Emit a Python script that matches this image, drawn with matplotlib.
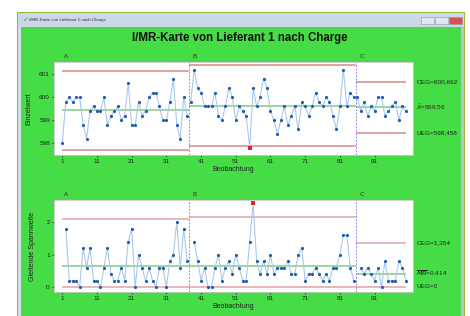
"""I/MR-Karte (Minitab-Stil) im Fenster-Screenshot nachgebaut."""

import numpy as np
import matplotlib

matplotlib.use("Agg")
import matplotlib.pyplot as plt
from matplotlib.patches import Rectangle

plt.rcParams["font.family"] = ["Liberation Sans", "DejaVu Sans"]

# --- Daten (Einzelwerte je Beobachtung) ---
stage_a = [598.0, 599.8, 600.0, 599.8, 600.0, 600.0, 598.8, 598.2, 599.4, 599.6,
           599.4, 599.4, 600.0, 598.8, 599.2, 599.4, 599.6, 599.0, 599.2, 600.6,
           598.8, 598.8, 599.8, 599.2, 599.4, 600.0, 600.2, 600.2, 599.6, 599.0,
           599.0, 599.8, 600.8, 598.8, 598.2, 600.0, 599.2]
stage_b = [599.8, 601.2, 600.4, 600.2, 599.6, 599.6, 599.6, 600.2, 599.2, 599.0,
           599.6, 600.4, 600.0, 599.0, 599.6, 599.4, 599.2, 597.8, 600.4, 599.6,
           600.0, 600.8, 600.4, 599.4, 599.0, 598.4, 599.0, 599.6, 598.8, 599.2,
           599.6, 598.6, 599.8, 599.6, 599.2, 599.6, 600.2, 599.8, 599.6, 600.0,
           599.8, 599.2, 598.6, 599.6, 601.2, 599.6, 600.2, 600.0]
stage_c = [600.0, 599.4, 599.8, 599.2, 599.6, 599.4, 600.0, 600.0, 599.2, 599.4,
           599.6, 599.8, 599.0, 599.6, 599.4]
stage_names = ["A", "B", "C"]

i_ticks = [598, 599, 600, 601]
mr_ticks = [0, 1, 2]
x_ticks = [1, 11, 21, 31, 41, 51, 61, 71, 81, 91]

# Minitab-Konstanten fuer n=2
D2, D3 = 1.128, 0.8525
K_I = 3 / D2
K_MR = 1 + 3 * D3 / D2

GREEN_BG = "#45dc45"
PT_COLOR = "#1f5fae"
LINE_COLOR = "#a9c8ea"
CL_COLOR = "#97d197"
LIM_COLOR = "#e0a4a4"
SEP_COLOR = "#9b86d8"

W, H = 470, 316
fig = plt.figure(figsize=(W / 100, H / 100), dpi=100)
fig.patch.set_facecolor("white")

# Hintergrund: Fensterrahmen in Pixelkoordinaten
bg = fig.add_axes([0, 0, 1, 1], zorder=0)
bg.set_xlim(0, W)
bg.set_ylim(H, 0)
bg.axis("off")
bg.add_patch(Rectangle((17, 12), 447, 310, facecolor="#d5dfeb", edgecolor="#97b83a", lw=0.8))
bg.add_patch(Rectangle((18, 12.5), 445, 14.5, facecolor="#cbd8e8", edgecolor="none"))
bg.add_patch(Rectangle((21, 27), 440, 300, facecolor=GREEN_BG, edgecolor="none"))
bg.add_patch(Rectangle((461, 27), 2.5, 300, facecolor="#b9c4cf", edgecolor="none"))
for x0, col in ((421, "#dfe6ef"), (435, "#dfe6ef"), (449, "#d9534a")):
    bg.add_patch(Rectangle((x0, 17), 13, 6.5, facecolor=col, edgecolor="#8d9bb0", lw=0.4))
bg.text(23, 19.8, "\u2713", color="#3c9a3c", fontsize=5, va="center", family="DejaVu Sans")
bg.text(29, 19.8, "I/MR-Karte von Lieferant 1 nach Charge", fontsize=3.2,
        color="#333333", va="center")
bg.text(240, 38, "I/MR-Karte von Lieferant 1 nach Charge", fontsize=8.3,
        fontweight="bold", ha="center", va="center", color="#111111")

stages = [np.array(stage_a), np.array(stage_b), np.array(stage_c)]
starts = np.cumsum([0] + [len(s) for s in stages])[:-1] + 1
bounds = [starts[1] - 0.5, starts[2] - 0.5]
n_total = sum(len(s) for s in stages)

ax_i = fig.add_axes([54 / W, 1 - 155 / H, 359 / W, 93 / H], zorder=1)
ax_mr = fig.add_axes([54 / W, 1 - 292.3 / H, 359 / W, 92.3 / H], zorder=1)

right_labels = {}
for k, (vals, s0) in enumerate(zip(stages, starts)):
    obs = np.arange(s0, s0 + len(vals))
    mr = np.abs(np.diff(vals))
    mr_obs = obs[1:]
    xbar = vals.mean()
    mrbar = mr.mean()
    ucl, lcl = xbar + K_I * mrbar, xbar - K_I * mrbar
    mr_ucl = K_MR * mrbar
    x_lo = 1 if k == 0 else s0 - 0.5
    x_hi = n_total if k == len(stages) - 1 else s0 + len(vals) - 0.5

    ax_i.hlines([ucl, lcl], x_lo, x_hi, color=LIM_COLOR, lw=1.4, zorder=1)
    ax_i.hlines(xbar, x_lo, x_hi, color=CL_COLOR, lw=1.3, zorder=1)
    ax_i.plot(obs, vals, color=LINE_COLOR, lw=0.8, zorder=2)
    out = (vals > ucl) | (vals < lcl)
    ax_i.plot(obs[~out], vals[~out], "o", color=PT_COLOR, ms=2.3, mew=0, zorder=3)
    ax_i.plot(obs[out], vals[out], "s", color="#e8231f", ms=3, mew=0, zorder=4)

    ax_mr.hlines([mr_ucl, 0], x_lo, x_hi, color=LIM_COLOR, lw=1.1, zorder=1)
    ax_mr.hlines(mrbar, x_lo, x_hi, color=CL_COLOR, lw=1.3, zorder=1)
    ax_mr.plot(mr_obs, mr, color=LINE_COLOR, lw=0.8, zorder=2)
    mr_out = mr > mr_ucl
    ax_mr.plot(mr_obs[~mr_out], mr[~mr_out], "o", color=PT_COLOR, ms=2.3, mew=0, zorder=3)
    ax_mr.plot(mr_obs[mr_out], mr[mr_out], "s", color="#e8231f", ms=3, mew=0, zorder=4)

    for ax in (ax_i, ax_mr):
        ax.text(s0 + 1.2, 1.035, stage_names[k], transform=ax.get_xaxis_transform(),
                fontsize=4.5, color="#333333", ha="center", va="bottom")
    right_labels = dict(ucl=ucl, lcl=lcl, xbar=xbar, mrbar=mrbar, mr_ucl=mr_ucl)

for ax in (ax_i, ax_mr):
    for b in bounds:
        ax.axvline(b, color=SEP_COLOR, lw=0.7, ls=(0, (2, 1.5)), zorder=1)
    ax.set_xlim(-1.39, 102.07)
    ax.set_xticks(x_ticks)
    ax.tick_params(labelsize=4.6, length=1.5, width=0.5, pad=1.5, colors="#222222")
    ax.set_facecolor("white")
    for sp in ax.spines.values():
        sp.set_color("#c8c8c8")
        sp.set_linewidth(0.6)
    ax.set_xlabel("Beobachtung", fontsize=5, labelpad=1.5, color="#222222")
    ax.xaxis.set_label_coords(0.5, -0.115)

ax_i.set_ylim(597.49, 601.535)
ax_i.set_yticks(i_ticks)
ax_i.set_ylabel("Einzelwert", fontsize=5, labelpad=5, color="#222222")
ax_mr.set_ylim(-0.164, 2.685)
ax_mr.set_yticks(mr_ticks)
ax_mr.set_ylabel("Gleitende Spannweite", fontsize=5, labelpad=7, color="#222222")


def de(v, nd):
    return f"{v:.{nd}f}".replace(".", ",")


lab = right_labels
tx = 1.0095
txt_kw = dict(fontsize=4.6, color="#222222", va="center", clip_on=False)
ax_i.text(tx, lab["ucl"], "OEG=" + de(lab["ucl"], 3), transform=ax_i.get_yaxis_transform(), **txt_kw)
ax_i.text(tx, lab["xbar"], r"$\bar{X}$=" + de(lab["xbar"], 2), transform=ax_i.get_yaxis_transform(), **txt_kw)
ax_i.text(tx, lab["lcl"], "UEG=" + de(lab["lcl"], 3), transform=ax_i.get_yaxis_transform(), **txt_kw)
ax_mr.text(tx, lab["mr_ucl"], "OEG=" + de(lab["mr_ucl"], 3), transform=ax_mr.get_yaxis_transform(), **txt_kw)
ax_mr.text(tx, lab["mrbar"], r"$\overline{MR}$=" + de(lab["mrbar"], 3), transform=ax_mr.get_yaxis_transform(), **txt_kw)
ax_mr.text(tx, 0, "UEG=0", transform=ax_mr.get_yaxis_transform(), **txt_kw)

fig.savefig("out.png", dpi=100)
